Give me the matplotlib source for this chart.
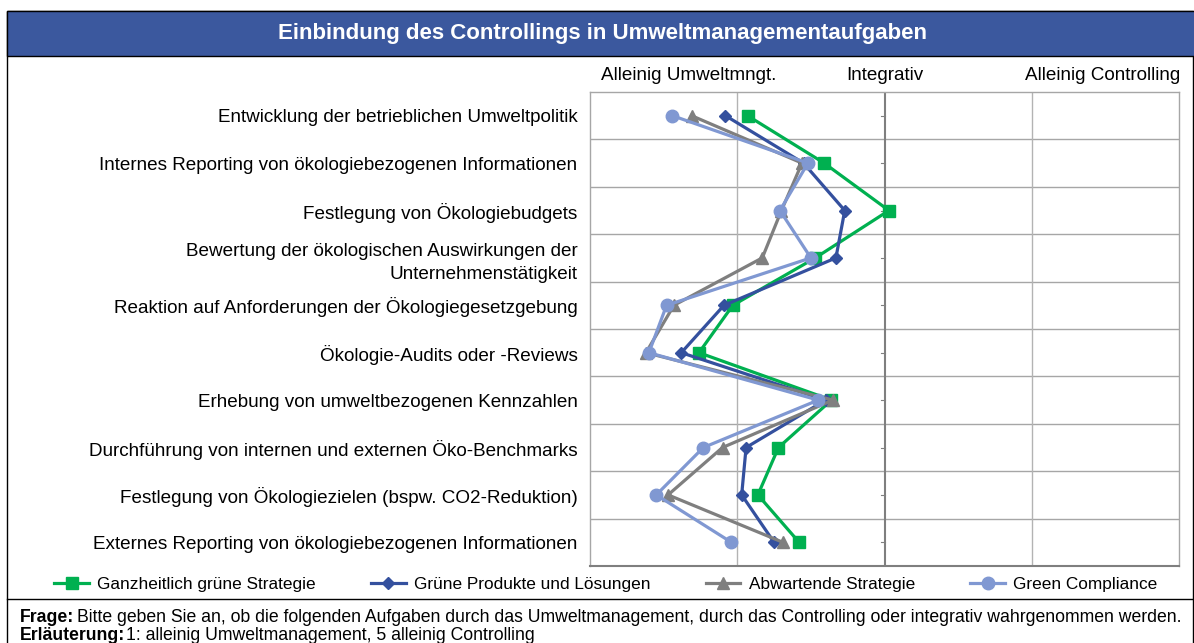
import matplotlib
matplotlib.use("Agg")
import matplotlib.pyplot as plt
from matplotlib.patches import Rectangle
from matplotlib.lines import Line2D
import matplotlib.transforms as mtransforms

plt.rcParams['font.family'] = ['Liberation Sans', 'DejaVu Sans']

title = "Einbindung des Controllings in Umweltmanagementaufgaben"
categories = [
    "Entwicklung der betrieblichen Umweltpolitik",
    "Internes Reporting von ökologiebezogenen Informationen",
    "Festlegung von Ökologiebudgets",
    "Bewertung der ökologischen Auswirkungen der\nUnternehmenstätigkeit",
    "Reaktion auf Anforderungen der Ökologiegesetzgebung",
    "Ökologie-Audits oder -Reviews",
    "Erhebung von umweltbezogenen Kennzahlen",
    "Durchführung von internen und externen Öko-Benchmarks",
    "Festlegung von Ökologiezielen (bspw. CO2-Reduktion)",
    "Externes Reporting von ökologiebezogenen Informationen",
]
series_names = ["Ganzheitlich grüne Strategie", "Grüne Produkte und Lösungen",
                "Abwartende Strategie", "Green Compliance"]
green_strategy = [2.07, 2.59, 3.03, 2.53, 1.97, 1.74, 2.64, 2.28, 2.14, 2.42]
green_products = [1.92, 2.45, 2.73, 2.67, 1.91, 1.62, 2.60, 2.06, 2.03, 2.25]
waiting_strategy = [1.69, 2.44, 2.30, 2.17, 1.57, 1.38, 2.65, 1.90, 1.53, 2.31]
green_compliance = [1.56, 2.48, 2.29, 2.50, 1.52, 1.40, 2.55, 1.77, 1.45, 1.96]
top_labels = ["Alleinig Umweltmngt.", "Integrativ", "Alleinig Controlling"]
top_label_pos = [1.67, 3.0, 4.48]
frage = "Bitte geben Sie an, ob die folgenden Aufgaben durch das Umweltmanagement, durch das Controlling oder integrativ wahrgenommen werden."
erl = "1: alleinig Umweltmanagement, 5 alleinig Controlling"

W, H = 1194, 643
fig = plt.figure(figsize=(W / 100, H / 100), dpi=100)

def fx(px):
    return px / W

def fy(py):
    return 1 - py / H

# outer frame and title bar
fig.patches.append(Rectangle((fx(7), fy(660)), fx(1193) - fx(7), fy(11) - fy(660),
                             transform=fig.transFigure, facecolor='none',
                             edgecolor='black', linewidth=1.0, zorder=0))
fig.patches.append(Rectangle((fx(7), fy(56)), fx(1196) - fx(7), fy(11) - fy(56),
                             transform=fig.transFigure, facecolor='#3B589E',
                             edgecolor='black', linewidth=1.0, zorder=1))
fig.text(fx(602), fy(33), title, color='white', fontsize=16, fontweight='bold',
         ha='center', va='center')
fig.add_artist(Line2D([fx(7), fx(1194)], [fy(599), fy(599)], color='black', linewidth=1.0,
                      transform=fig.transFigure))

ax = fig.add_axes([fx(590), fy(566), fx(1179) - fx(590), fy(92) - fy(566)])
ax.set_zorder(2)
n = len(categories)
ypos = list(range(n))

styles = [
    (green_strategy, '#00B050', 's', 8.5),
    (green_products, '#34509E', 'D', 6.5),
    (waiting_strategy, '#7F7F7F', '^', 9),
    (green_compliance, '#8098D2', 'o', 9),
]
handles = []
for (vals, col, mk, ms), name in zip(styles, series_names):
    h, = ax.plot(vals, ypos, color=col, marker=mk, markersize=ms, linewidth=2.3,
                 label=name, zorder=3, clip_on=False)
    handles.append(h)

ax.set_xlim(1, 5)
ax.set_ylim(n - 0.5, -0.5)
ax.set_yticks(ypos)
ax.set_yticklabels(categories, fontsize=13.6, ha='right', linespacing=1.45)
ax.tick_params(axis='y', length=0, pad=9)
ax.set_xticks([])

for b in [i + 0.5 for i in range(n - 1)]:
    ax.axhline(b, color='#A6A6A6', linewidth=1.0, zorder=1)
for xv in [2, 4]:
    ax.axvline(xv, color='#B3B3B3', linewidth=1.0, zorder=1)
ax.axvline(3, color='#7F7F7F', linewidth=1.5, zorder=1)
# tick marks on the central axis
for y in ypos:
    ax.plot([2.975, 3.0], [y, y], color='#7F7F7F', linewidth=0.8, zorder=1)

for s in ['top', 'left', 'right']:
    ax.spines[s].set_color('#A6A6A6')
    ax.spines[s].set_linewidth(1.0)
ax.spines['bottom'].set_color('#7F7F7F')
ax.spines['bottom'].set_linewidth(1.5)

ttr = mtransforms.blended_transform_factory(ax.transData, ax.transAxes)
for lab, xp in zip(top_labels, top_label_pos):
    ax.text(xp, 1 + 17 / 474, lab, transform=ttr, ha='center', va='center', fontsize=13.6,
            clip_on=False)

leg = fig.legend(handles=handles, loc='center', bbox_to_anchor=(fx(606), fy(584)), ncol=4,
                 frameon=False, fontsize=12.4, handlelength=2.0, columnspacing=3.2,
                 handletextpad=0.5)

fs = 12.7
fig.text(fx(20), fy(617), "Frage:", fontsize=fs, fontweight='bold', ha='left', va='center')
fig.text(fx(77), fy(617), frage, fontsize=fs, ha='left', va='center')
fig.text(fx(20), fy(636), "Erläuterung:", fontsize=fs, fontweight='bold', ha='left', va='center')
fig.text(fx(126), fy(636), erl, fontsize=fs, ha='left', va='center')

fig.savefig("out.png", dpi=100)
